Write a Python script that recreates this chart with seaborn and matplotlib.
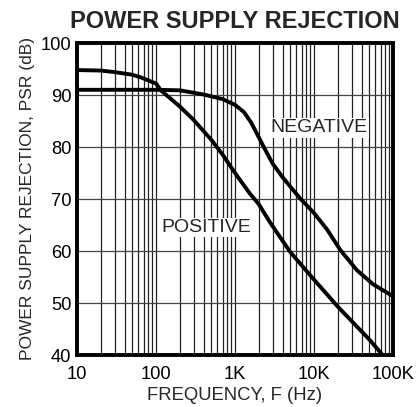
import numpy as np
import pandas as pd
import matplotlib
matplotlib.use("Agg")
import matplotlib.pyplot as plt
import seaborn as sns
from matplotlib.ticker import FixedLocator, NullFormatter, LogLocator

# data
pos_freq = [10, 20, 30, 50, 64, 100, 115, 200, 300, 500, 700, 1000, 1550, 2000, 2750, 5000, 10000, 20000, 50000, 74000, 100000]
pos_psr = [94.8, 94.7, 94.4, 93.9, 93.4, 92.2, 90.9, 87.8, 85.2, 81.4, 78.5, 75.0, 71.0, 69.0, 65.6, 59.8, 54.5, 49.3, 43.0, 40.0, 38.3]
neg_freq = [10, 100, 200, 400, 700, 1000, 1300, 1600, 1950, 2350, 3000, 4000, 5000, 6600, 10000, 14700, 21500, 35000, 56000, 100000]
neg_psr = [91.0, 91.0, 90.9, 90.1, 89.2, 88.1, 86.7, 84.7, 82.2, 79.8, 76.8, 74.2, 72.4, 70.2, 67.3, 64.1, 60.2, 56.3, 53.6, 51.3]
x_ticks = [10, 100, 1000, 10000, 100000]
x_ticklabels = ["10", "100", "1K", "10K", "100K"]
y_ticks = [40, 50, 60, 70, 80, 90, 100]

df = pd.concat([
    pd.DataFrame({"freq": pos_freq, "psr": pos_psr, "curve": "POSITIVE"}),
    pd.DataFrame({"freq": neg_freq, "psr": neg_psr, "curve": "NEGATIVE"}),
])

sns.set_theme(style="white")
plt.rcParams["font.family"] = ["Liberation Sans", "DejaVu Sans"]

fig = plt.figure(figsize=(4.17, 4.07), dpi=100)
ax = fig.add_axes([77/417, 1-355/407, (393-77)/417, (355-43)/407])

sns.lineplot(data=df, x="freq", y="psr", units="curve", estimator=None,
             color="black", linewidth=2.8, ax=ax, legend=False, sort=False, zorder=5)

ax.set_xscale("log")
ax.set_xlim(10, 100000)
ax.set_ylim(40, 100)

ax.xaxis.set_major_locator(FixedLocator(x_ticks))
ax.set_xticklabels(x_ticklabels)
ax.xaxis.set_minor_locator(LogLocator(base=10, subs=np.arange(2, 10)))
ax.xaxis.set_minor_formatter(NullFormatter())
ax.set_yticks(y_ticks)

ax.grid(True, which="both", axis="x", color="#222222", linewidth=0.9)
ax.grid(True, which="major", axis="y", color="#444444", linewidth=0.9)
ax.tick_params(axis="both", which="both", length=0, labelsize=13.2, colors="black")
ax.tick_params(axis="x", pad=8)
ax.tick_params(axis="y", pad=4)

for s in ax.spines.values():
    s.set_linewidth(2.8)
    s.set_color("black")

ax.set_xlabel("FREQUENCY, F (Hz)", fontsize=13.3, labelpad=3)
ax.set_ylabel("POWER SUPPLY REJECTION, PSR (dB)", fontsize=12.5, labelpad=4)
ax.set_title("POWER SUPPLY REJECTION", fontsize=17, fontweight="bold", pad=10.5)

box = dict(facecolor="white", edgecolor="none", pad=1)
ax.text(11500, 83.7, "NEGATIVE", fontsize=14, ha="center", va="center", bbox=box, zorder=4)
ax.text(427, 64.5, "POSITIVE", fontsize=14, ha="center", va="center", bbox=box, zorder=4)

fig.savefig("out.png", dpi=100)
